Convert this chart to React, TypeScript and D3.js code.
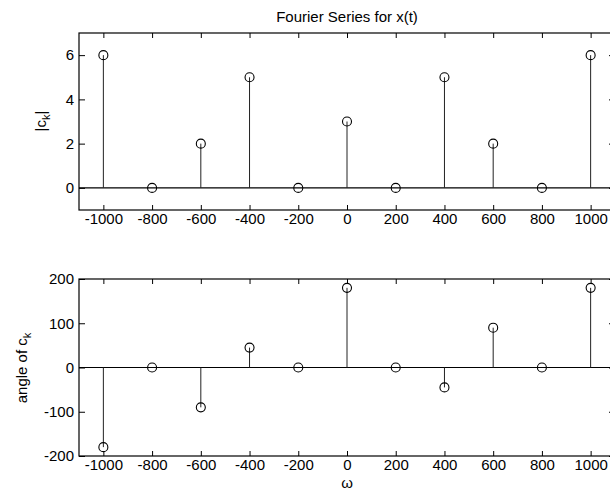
import { useEffect, useRef } from "react";
import * as d3 from "d3";

// frequencies (rad/s) of the Fourier coefficients
const omegas = [-1000, -800, -600, -400, -200, 0, 200, 400, 600, 800, 1000];
const magnitudes = [6, 0, 2, 5, 0, 3, 0, 5, 2, 0, 6];
const angles = [-180, 0, -90, 45, 0, 180, 0, -45, 90, 0, 180];

const xTicks = [-1000, -800, -600, -400, -200, 0, 200, 400, 600, 800, 1000];
const magTicks = [0, 2, 4, 6];
const angleTicks = [-200, -100, 0, 100, 200];

const FONT = "'Liberation Sans', Arial, sans-serif";

const App = () => {
  const svgRef = useRef<SVGSVGElement>(null);

  useEffect(() => {
    const svg = d3.select(svgRef.current);
    svg.selectAll("*").remove();

    const left = 79;
    const right = 615;
    const xScale = d3.scaleLinear().domain([-1100, 1100]).range([left, right]);
    const plain = (d: d3.NumberValue) => String(d);

    const drawStem = (
      top: number,
      bottom: number,
      yDomain: [number, number],
      yTicks: number[],
      values: number[]
    ) => {
      const yScale = d3.scaleLinear().domain(yDomain).range([bottom, top]);
      const g = svg.append("g");

      // baseline at zero
      g.append("line")
        .attr("x1", left).attr("x2", right)
        .attr("y1", yScale(0)).attr("y2", yScale(0))
        .attr("stroke", "#000").attr("stroke-width", 1.2);

      // stems
      g.selectAll(".stem").data(omegas).enter().append("line")
        .attr("class", "stem")
        .attr("x1", (d) => xScale(d)).attr("x2", (d) => xScale(d))
        .attr("y1", yScale(0)).attr("y2", (d, i) => yScale(values[i]))
        .attr("stroke", "#222").attr("stroke-width", 1);

      g.selectAll(".mark").data(omegas).enter().append("circle")
        .attr("class", "mark")
        .attr("cx", (d) => xScale(d)).attr("cy", (d, i) => yScale(values[i]))
        .attr("r", 4.5)
        .attr("fill", "none").attr("stroke", "#000").attr("stroke-width", 1.1);

      const styleAxis = (ax: d3.Selection<SVGGElement, unknown, null, undefined>) => {
        ax.select(".domain").remove();
        ax.selectAll("line").attr("stroke", "#000");
        ax.selectAll("text").attr("font-family", FONT).attr("font-size", 15).attr("fill", "#000");
      };

      const bottomAx = g.append("g").attr("transform", `translate(0, ${bottom})`)
        .call(d3.axisBottom(xScale).tickValues(xTicks).tickSizeInner(-5).tickSizeOuter(0).tickPadding(3).tickFormat(plain));
      styleAxis(bottomAx);
      const topAx = g.append("g").attr("transform", `translate(0, ${top})`)
        .call(d3.axisTop(xScale).tickValues(xTicks).tickSizeInner(-5).tickSizeOuter(0).tickFormat(() => ""));
      styleAxis(topAx);
      const leftAx = g.append("g").attr("transform", `translate(${left}, 0)`)
        .call(d3.axisLeft(yScale).tickValues(yTicks).tickSizeInner(-6).tickSizeOuter(0).tickPadding(5).tickFormat(plain));
      styleAxis(leftAx);
      const rightAx = g.append("g").attr("transform", `translate(${right}, 0)`)
        .call(d3.axisRight(yScale).tickValues(yTicks).tickSizeInner(-6).tickSizeOuter(0).tickFormat(() => ""));
      styleAxis(rightAx);

      g.append("rect")
        .attr("x", left).attr("y", top)
        .attr("width", right - left).attr("height", bottom - top)
        .attr("fill", "none").attr("stroke", "#000").attr("stroke-width", 1.2);

      return g;
    };

    drawStem(33, 210, [-1, 7], magTicks, magnitudes);
    drawStem(279, 456, [-200, 200], angleTicks, angles);

    svg.append("text")
      .attr("x", 347).attr("y", 22)
      .attr("text-anchor", "middle")
      .attr("font-family", FONT).attr("font-size", 15)
      .text("Fourier Series for x(t)");

    const yLabel1 = svg.append("text")
      .attr("transform", "translate(46, 121) rotate(-90)")
      .attr("text-anchor", "middle")
      .attr("font-family", FONT).attr("font-size", 15);
    yLabel1.append("tspan").text("|c");
    yLabel1.append("tspan").attr("font-size", 11).attr("dy", 4).text("k");
    yLabel1.append("tspan").attr("dy", -4).text("|");

    const yLabel2 = svg.append("text")
      .attr("transform", "translate(27, 368) rotate(-90)")
      .attr("text-anchor", "middle")
      .attr("font-family", FONT).attr("font-size", 15);
    yLabel2.append("tspan").text("angle of c");
    yLabel2.append("tspan").attr("font-size", 11).attr("dy", 4).text("k");

    svg.append("text")
      .attr("x", 347).attr("y", 488)
      .attr("text-anchor", "middle")
      .attr("font-family", FONT).attr("font-size", 15)
      .text("ω");
  }, []);

  return (
    <svg
      ref={svgRef}
      width={610}
      height={500}
      style={{ position: "absolute", left: 0, top: 0, background: "#fff" }}
    ></svg>
  );
};

export default App;
